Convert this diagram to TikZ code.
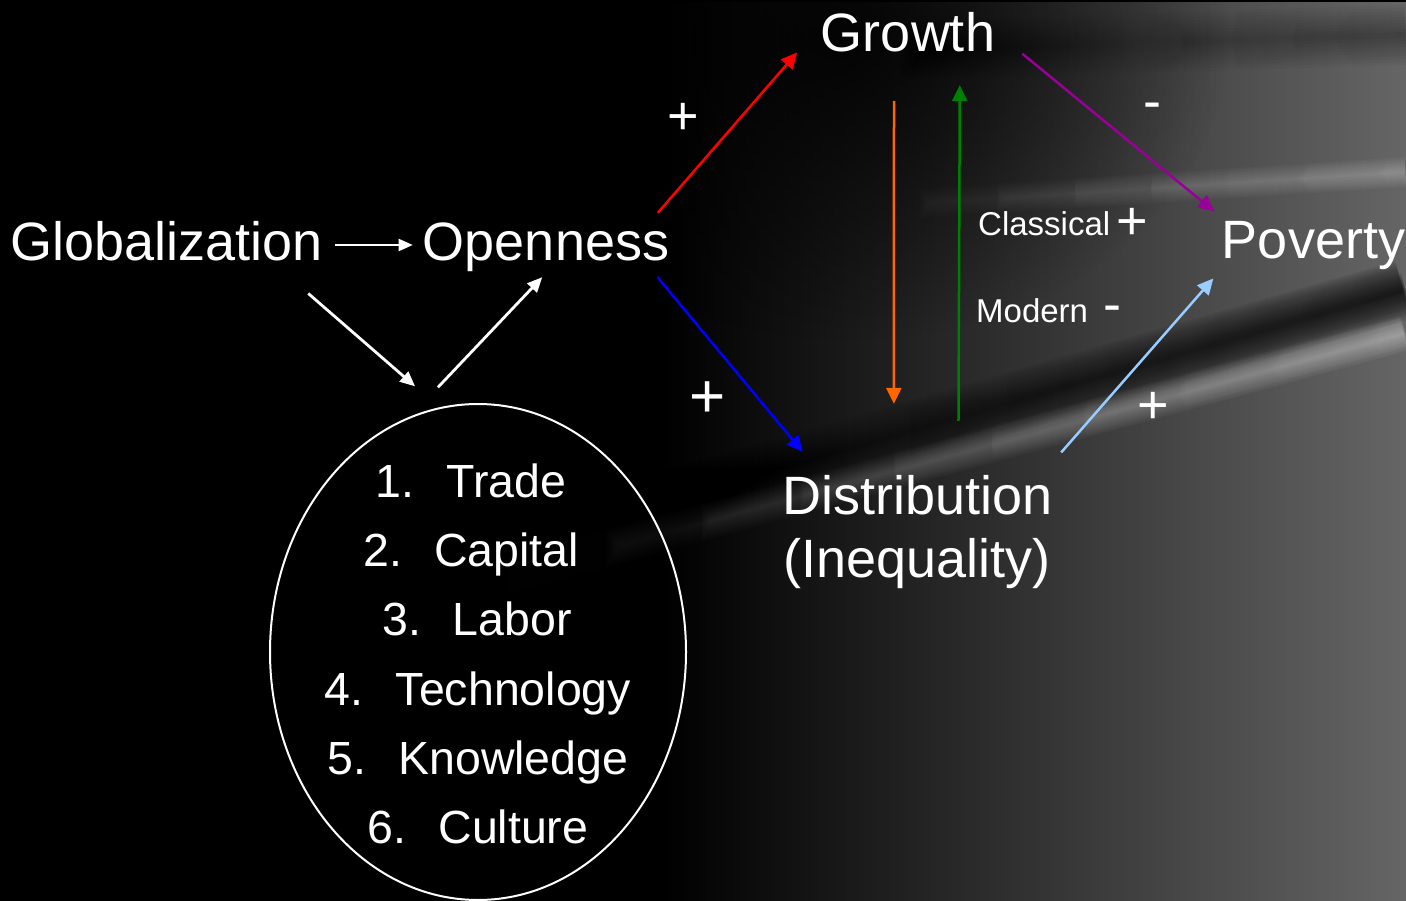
\documentclass[tikz,border=0pt]{standalone}
\usepackage{fontspec}
\setmainfont{Liberation Sans}
\usetikzlibrary{arrows.meta,shapes.geometric,fadings}

\definecolor{haze}{gray}{0.40}
\definecolor{orangearrow}{HTML}{FF6600}
\definecolor{greenarrow}{HTML}{008000}
\definecolor{purplearrow}{HTML}{990099}
\definecolor{lightarrow}{HTML}{99CCFF}

\newcommand{\bigfont}{\fontsize{54}{63}\selectfont}
\newcommand{\listfont}{\fontsize{46.5}{69}\selectfont}
\newcommand{\smallfont}{\fontsize{33}{40}\selectfont}

\tikzfading[name=fadeleft, left color=transparent!100, right color=transparent!0]
\tikzfading[name=fadeboth, left color=transparent!100, middle color=transparent!0,
            right color=transparent!100]
\tikzfading[name=softspot, inner color=transparent!0, outer color=transparent!100]

\begin{document}
\begin{tikzpicture}[
    x = 1pt, y = -1pt,
    concept/.style = {text=white, inner sep=0pt, font=\bigfont, anchor=base,
                      text height=40pt, text depth=8pt},
    factor/.style  = {text=white, inner sep=0pt, font=\listfont, anchor=base},
    sign/.style    = {text=white, inner sep=0pt, font=\bigfont, anchor=base},
    school/.style  = {text=white, inner sep=0pt, font=\smallfont, anchor=base west},
    link/.style    = {-{Triangle[length=16pt, width=15pt]}, line width=2.5pt},
    plain/.style   = {-{Triangle[length=15pt, width=13pt]}, line width=2.8pt, white}
  ]
\useasboundingbox (0,0) rectangle (1406,901);

% backdrop: black slide with grey light streaks on the right
\begin{scope}
  \clip (0,0) rectangle (1406,901);
  \fill[black] (0,0) rectangle (1406,901);
  \fill[haze, path fading=fadeleft] (660,0) rectangle (1406,901);
  \fill[black, opacity=.85, path fading=softspot] (850,40) ellipse [x radius=380, y radius=300];
  % dark streaks
  \foreach \w in {4,8,...,60}
    \draw[black, line width=\w pt, opacity=.08, path fading=fadeleft] (460,560) -- (1406,290);
  \foreach \w in {3,6,...,24}
    \draw[black, line width=\w pt, opacity=.07, path fading=fadeboth] (700,256) -- (1300,206);
  \foreach \w in {6,12,...,60}
    \draw[black, line width=\w pt, opacity=.04, path fading=fadeleft] (900,50) -- (1406,35);
  % light streaks
  \foreach \w in {3,6,...,36}
    \draw[white, line width=\w pt, opacity=.04, path fading=fadeleft] (480,583) -- (1406,333);
  \foreach \w in {3,6,...,30}
    \draw[white, line width=\w pt, opacity=.03, path fading=fadeleft] (820,210) -- (1406,172);
\end{scope}

% concepts
\node[concept] (glob)    at (166.5,261) {Globalization};
\node[concept] (open)    at (546,261)   {Openness};
\node[concept] (growth)  at (908,52)    {Growth};
\node[concept] (poverty) at (1313.5,259) {Poverty};
\node[concept] (dist)    at (918,514)   {Distribution};
\node[concept] (ineq)    at (917,577)   {(Inequality)};

% channels of globalization
\node[draw=white, line width=2pt, ellipse, minimum width=416pt,
      minimum height=496pt, inner sep=0pt] (factors) at (478,652) {};
\node[factor] (trade)      at (471,497.5) {1.\hspace{32pt}Trade};
\node[factor] (capital)    at (471,566.7) {2.\hspace{32pt}Capital};
\node[factor] (labor)      at (477,635.9) {3.\hspace{32pt}Labor};
\node[factor] (technology) at (478,705.1) {4.\hspace{32pt}Technology};
\node[factor] (knowledge)  at (478,774.3) {5.\hspace{32pt}Knowledge};
\node[factor] (culture)    at (478,843.5) {6.\hspace{32pt}Culture};

% signs of the effects
\node[sign] (redsign)    at (683,134.5) {+};
\node[sign, font=\fontsize{62}{62}\selectfont] (bluesign) at (708,417) {+};
\node[sign] (purplesign) at (1152,120)  {-};
\node[sign] (lightsign)  at (1153,423.5) {+};
\node[school] (classical) at (978,236) {Classical\hspace{6pt}{\bigfont\raisebox{-4pt}{+}}};
\node[school] (modern)    at (976,323) {Modern\hspace{15pt}{\bigfont -}};

% links
\draw[plain, line width=2pt, -{Triangle[length=14pt, width=12pt]},
      shorten <=12.5pt, shorten >=10pt] (glob) -- (open);
\draw[plain, shorten <=37pt, shorten >=32pt] (glob.-12.6) -- (factors.99.5);
\draw[plain, shorten <=40pt, shorten >=11pt] (factors.106) -- (open.-81.7);
\draw[link, red, shorten <=10.7pt, shorten >=36pt] (open.13.4) -- (growth.173.6);
\draw[link, blue, shorten <=10.3pt, shorten >=28.4pt] (open.-13.3) -- (dist.166.9);
\draw[link, orangearrow, shorten <=41pt, shorten >=70pt] (growth.-120.3) -- (dist.135);
\draw[link, greenarrow, shorten <=53pt, shorten >=25pt] (dist.31) -- (growth.-25.6);
\draw[link, purplearrow, shorten <=35.1pt, shorten >=11.7pt] (growth.3.6) -- (poverty.165.6);
\draw[link, lightarrow, shorten <=28.4pt, shorten >=14.9pt] (dist.11.6) -- (poverty.-165.1);
\end{tikzpicture}
\end{document}
